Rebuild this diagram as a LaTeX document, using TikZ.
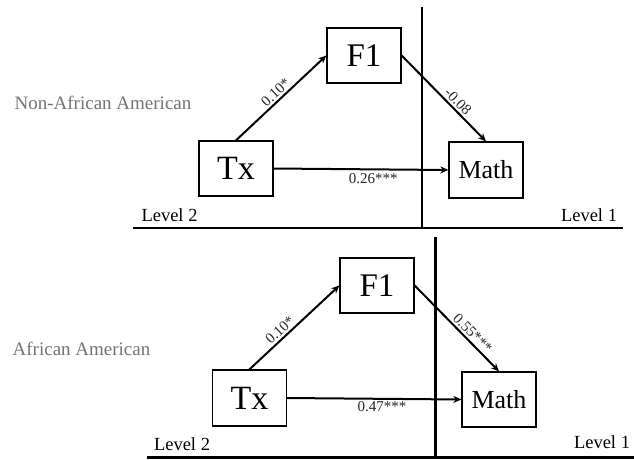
\documentclass[tikz,border=0pt]{standalone}
\usepackage{fontspec}
\setmainfont{Liberation Serif}
\usetikzlibrary{arrows.meta}
\begin{document}
\begin{tikzpicture}[x=1pt,y=-1pt,
  varbox/.style={draw, line width=1.3pt, minimum width=74pt, minimum height=55pt, inner sep=0pt},
  path/.style={line width=2pt, -{Stealth[length=8pt,width=7pt]}},
  coef/.style={font=\fontsize{15}{15}\selectfont, text=black!85, inner sep=2pt},
  group/.style={font=\fontsize{19}{19}\selectfont, text=black!55},
  lvl/.style={font=\fontsize{18.5}{18.5}\selectfont},
  divider/.style={line width=2.4pt}]
\useasboundingbox (0,0) rectangle (634,459);

% ---------- top panel ----------
\node[varbox, font=\fontsize{33}{33}\selectfont] (F1a) at (364,55.5) {F1};
\node[varbox, font=\fontsize{34}{34}\selectfont] (Txa) at (236,168.5) {Tx};
\node[varbox, minimum height=56pt, font=\fontsize{26}{26}\selectfont] (Matha) at (486,170) {Math};
\coordinate (vta) at (422,7);
\coordinate (vba) at (422,228);
\coordinate (hla) at (133,228);
\coordinate (hra) at (623,228);
\draw[divider] (vta) -- (vba);
\draw[divider] (hla) -- (hra);
\draw[path] (Txa.north) -- node[coef, sloped, above, pos=0.5] {0.10*} (F1a.west);
\draw[path] (F1a.east) -- node[coef, sloped, above, pos=0.6] {-0.08} (Matha.north);
\draw[path] (Txa.east) -- node[coef, below, pos=0.57, yshift=-1pt] {0.26***} (Matha.west);
\node[group] (ga) at (103,103) {Non-African American};
\node[lvl] (l2a) at (169.5,215) {Level 2};
\node[lvl] (l1a) at (589,215) {Level 1};

% ---------- bottom panel ----------
\node[varbox, font=\fontsize{33}{33}\selectfont] (F1b) at (377,285.5) {F1};
\node[varbox, minimum height=56pt, font=\fontsize{34}{34}\selectfont] (Txb) at (249.5,398) {Tx};
\node[varbox, font=\fontsize{26}{26}\selectfont] (Mathb) at (499,399.5) {Math};
\coordinate (vtb) at (435.5,237);
\coordinate (vbb) at (435.5,457.5);
\coordinate (hlb) at (147,457.5);
\coordinate (hrb) at (634,457.5);
\draw[divider] (vtb) -- (vbb);
\draw[divider] (hlb) -- (hrb);
\draw[path] (Txb.north) -- node[coef, sloped, above, pos=0.4] {0.10*} (F1b.west);
\draw[path] (F1b.east) -- node[coef, sloped, above, pos=0.62] {0.55***} (Mathb.north);
\draw[path] (Txb.east) -- node[coef, below, pos=0.545] {0.47***} (Mathb.west);
\node[group] (gb) at (81.5,349) {African American};
\node[lvl] (l2b) at (182,444) {Level 2};
\node[lvl] (l1b) at (602,442) {Level 1};
\end{tikzpicture}
\end{document}
